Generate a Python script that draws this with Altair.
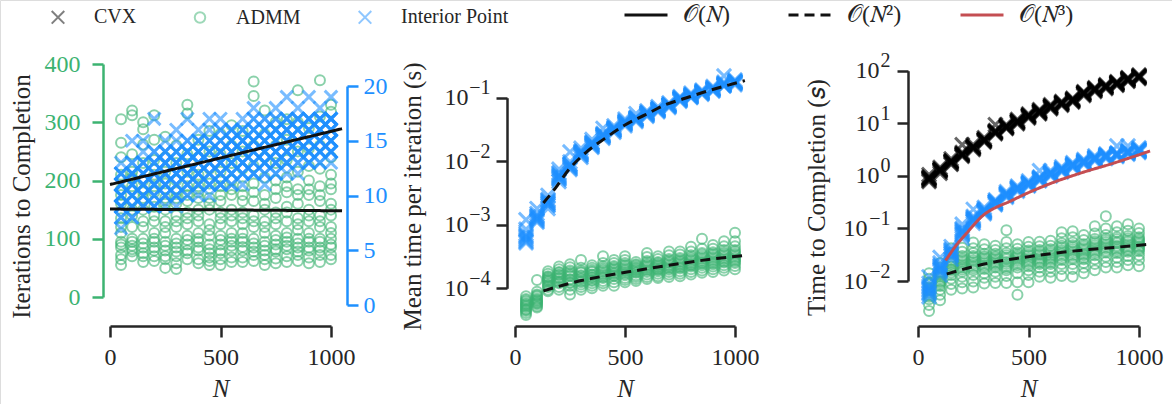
import altair as alt
import pandas as pd

FONT = "Liberation Serif"
INK = "#262626"
GREEN = "#3cb371"
BLUE = "#1e90ff"
RED = "#c44e52"

# Problem sizes used in every experiment
N_VALUES = [50, 100, 150, 200, 250, 300, 350, 400, 450, 500,
            550, 600, 650, 700, 750, 800, 850, 900, 950, 1000]

# Iterations to completion, one list of trials per N
ADMM_ITERATIONS = [
    [305, 265, 240, 210, 185, 175, 160, 135, 120, 110, 95, 90, 85, 72, 65, 55],
    [320, 312, 245, 215, 205, 190, 165, 150, 140, 120, 100, 95, 88, 82, 78, 70],
    [300, 288, 262, 230, 200, 180, 170, 150, 130, 120, 100, 92, 85, 75, 70, 60],
    [312, 270, 235, 210, 190, 180, 155, 140, 130, 110, 100, 95, 85, 80, 70, 62],
    [275, 240, 215, 195, 170, 160, 150, 130, 120, 110, 95, 88, 80, 70, 65, 50],
    [260, 230, 200, 180, 170, 160, 140, 130, 120, 100, 92, 85, 78, 70, 58, 48],
    [330, 315, 245, 215, 190, 175, 165, 145, 135, 125, 105, 98, 90, 80, 75, 65],
    [270, 240, 210, 190, 180, 170, 150, 140, 130, 110, 100, 95, 85, 80, 65, 58],
    [285, 250, 220, 195, 170, 160, 150, 125, 115, 105, 90, 82, 75, 68, 62, 55],
    [280, 245, 215, 190, 175, 165, 145, 135, 125, 105, 98, 90, 80, 75, 65, 55],
    [295, 260, 230, 200, 185, 175, 150, 140, 130, 110, 100, 95, 88, 80, 68, 60],
    [285, 250, 220, 190, 175, 165, 145, 135, 125, 110, 100, 95, 86, 80, 68, 60],
    [370, 345, 260, 225, 195, 180, 165, 140, 130, 120, 100, 92, 85, 78, 72, 62],
    [320, 280, 240, 205, 175, 160, 150, 130, 120, 110, 95, 88, 80, 72, 65, 55],
    [300, 260, 230, 200, 185, 170, 145, 135, 125, 105, 98, 90, 82, 78, 66, 58],
    [305, 270, 235, 205, 190, 180, 155, 145, 130, 110, 102, 95, 88, 82, 70, 60],
    [355, 300, 250, 215, 185, 175, 160, 135, 125, 115, 100, 92, 85, 78, 72, 62],
    [290, 255, 225, 200, 185, 175, 150, 140, 130, 110, 100, 95, 85, 80, 68, 58],
    [372, 310, 260, 220, 190, 175, 165, 140, 130, 120, 100, 95, 85, 80, 72, 60],
    [330, 318, 240, 210, 195, 185, 160, 150, 140, 120, 110, 100, 90, 85, 72, 65],
]
IP_ITERATIONS = [
    [13, 12, 12, 12, 11, 11, 11, 11, 10, 10, 10, 10, 10, 9, 9, 9, 9, 8, 8, 7],
    [15, 13, 13, 12, 12, 12, 12, 11, 11, 11, 11, 10, 10, 10, 10, 9, 9, 9, 8, 8],
    [15, 14, 13, 13, 13, 12, 12, 12, 12, 11, 11, 11, 11, 10, 10, 10, 10, 9, 9, 9],
    [17, 14, 14, 13, 13, 13, 12, 12, 12, 12, 11, 11, 11, 11, 10, 10, 10, 9, 9, 9],
    [15, 14, 14, 14, 13, 13, 13, 13, 12, 12, 12, 12, 11, 11, 11, 11, 10, 10, 10, 9],
    [16, 15, 14, 14, 14, 13, 13, 13, 13, 12, 12, 12, 12, 11, 11, 11, 10, 10, 10, 9],
    [17, 15, 15, 14, 14, 14, 14, 13, 13, 13, 13, 12, 12, 12, 12, 11, 11, 11, 10, 10],
    [16, 15, 15, 15, 14, 14, 14, 14, 13, 13, 13, 13, 12, 12, 12, 12, 11, 11, 11, 10],
    [17, 16, 15, 15, 15, 14, 14, 14, 14, 13, 13, 13, 13, 12, 12, 12, 11, 11, 11, 10],
    [17, 16, 16, 15, 15, 15, 14, 14, 14, 14, 13, 13, 13, 13, 12, 12, 12, 11, 11, 11],
    [16, 16, 16, 15, 15, 15, 15, 14, 14, 14, 14, 13, 13, 13, 13, 12, 12, 12, 11, 11],
    [17, 16, 16, 16, 15, 15, 15, 15, 14, 14, 14, 14, 13, 13, 13, 13, 12, 12, 12, 11],
    [18, 17, 17, 16, 16, 16, 15, 15, 15, 15, 14, 14, 14, 14, 13, 13, 13, 12, 12, 12],
    [17, 17, 16, 16, 16, 15, 15, 15, 15, 14, 14, 14, 14, 13, 13, 13, 13, 12, 12, 11],
    [18, 17, 17, 16, 16, 16, 16, 15, 15, 15, 15, 14, 14, 14, 14, 13, 13, 13, 12, 12],
    [19, 17, 17, 17, 16, 16, 16, 16, 15, 15, 15, 15, 14, 14, 14, 14, 13, 13, 13, 12],
    [18, 17, 17, 17, 16, 16, 16, 16, 15, 15, 15, 15, 15, 14, 14, 14, 14, 13, 13, 12],
    [19, 17, 17, 17, 17, 16, 16, 16, 16, 15, 15, 15, 15, 14, 14, 14, 14, 13, 13, 13],
    [18, 17, 17, 17, 17, 16, 16, 16, 16, 16, 15, 15, 15, 15, 14, 14, 14, 14, 13, 13],
    [19, 17, 17, 17, 17, 17, 16, 16, 16, 16, 15, 15, 15, 15, 15, 14, 14, 14, 14, 13],
]

# Mean wall time per iteration (s)
ADMM_TIME_PER_ITER = [
    [7.5e-5, 6.8e-5, 6.5e-5, 6.2e-5, 5.8e-5, 5.6e-5, 5.4e-5, 5.2e-5, 5.0e-5, 4.7e-5, 4.6e-5, 4.4e-5, 4.1e-5, 3.8e-5],
    [1.35e-4, 8.8e-5, 8.0e-5, 7.7e-5, 7.4e-5, 6.9e-5, 6.6e-5, 6.4e-5, 6.2e-5, 6.0e-5, 5.8e-5, 5.6e-5, 5.2e-5, 5.0e-5],
    [1.85e-4, 1.7e-4, 1.55e-4, 1.5e-4, 1.45e-4, 1.4e-4, 1.35e-4, 1.3e-4, 1.25e-4, 1.15e-4, 1.1e-4, 1.05e-4, 9.5e-5, 9.0e-5],
    [2.2e-4, 2.0e-4, 1.8e-4, 1.75e-4, 1.65e-4, 1.6e-4, 1.5e-4, 1.45e-4, 1.4e-4, 1.3e-4, 1.25e-4, 1.2e-4, 1.05e-4, 9.5e-5],
    [2.4e-4, 2.15e-4, 1.9e-4, 1.8e-4, 1.7e-4, 1.6e-4, 1.55e-4, 1.4e-4, 1.35e-4, 1.25e-4, 1.2e-4, 1.1e-4, 9.5e-5, 8.0e-5],
    [2.8e-4, 2.1e-4, 1.9e-4, 1.8e-4, 1.75e-4, 1.6e-4, 1.55e-4, 1.45e-4, 1.4e-4, 1.3e-4, 1.25e-4, 1.15e-4, 1.05e-4, 9.5e-5],
    [2.3e-4, 2.1e-4, 1.95e-4, 1.85e-4, 1.8e-4, 1.65e-4, 1.6e-4, 1.5e-4, 1.45e-4, 1.35e-4, 1.3e-4, 1.2e-4, 1.1e-4, 1.0e-4],
    [3.2e-4, 2.5e-4, 2.25e-4, 2.1e-4, 2.0e-4, 1.9e-4, 1.8e-4, 1.7e-4, 1.6e-4, 1.5e-4, 1.45e-4, 1.3e-4, 1.2e-4, 1.1e-4],
    [2.8e-4, 2.5e-4, 2.25e-4, 2.15e-4, 2.05e-4, 1.95e-4, 1.85e-4, 1.75e-4, 1.7e-4, 1.6e-4, 1.55e-4, 1.4e-4, 1.25e-4, 1.1e-4],
    [3.2e-4, 2.8e-4, 2.5e-4, 2.35e-4, 2.25e-4, 2.1e-4, 2.0e-4, 1.9e-4, 1.8e-4, 1.7e-4, 1.6e-4, 1.45e-4, 1.35e-4, 1.25e-4],
    [2.6e-4, 2.4e-4, 2.3e-4, 2.2e-4, 2.1e-4, 2.05e-4, 1.95e-4, 1.9e-4, 1.8e-4, 1.75e-4, 1.6e-4, 1.5e-4, 1.4e-4, 1.3e-4],
    [3.6e-4, 3.1e-4, 2.7e-4, 2.55e-4, 2.4e-4, 2.3e-4, 2.2e-4, 2.1e-4, 2.0e-4, 1.9e-4, 1.8e-4, 1.65e-4, 1.5e-4, 1.4e-4],
    [3.2e-4, 2.9e-4, 2.6e-4, 2.5e-4, 2.4e-4, 2.3e-4, 2.2e-4, 2.1e-4, 2.0e-4, 1.95e-4, 1.85e-4, 1.7e-4, 1.55e-4, 1.45e-4],
    [3.8e-4, 3.3e-4, 2.9e-4, 2.75e-4, 2.6e-4, 2.5e-4, 2.35e-4, 2.25e-4, 2.15e-4, 2.05e-4, 1.95e-4, 1.8e-4, 1.65e-4, 1.5e-4],
    [3.8e-4, 3.4e-4, 3.0e-4, 2.85e-4, 2.7e-4, 2.6e-4, 2.45e-4, 2.35e-4, 2.25e-4, 2.15e-4, 2.05e-4, 1.85e-4, 1.7e-4, 1.55e-4],
    [4.5e-4, 3.8e-4, 3.3e-4, 3.1e-4, 2.95e-4, 2.8e-4, 2.65e-4, 2.5e-4, 2.4e-4, 2.3e-4, 2.2e-4, 2.0e-4, 1.8e-4, 1.65e-4],
    [6.0e-4, 4.2e-4, 3.6e-4, 3.4e-4, 3.2e-4, 3.0e-4, 2.85e-4, 2.7e-4, 2.55e-4, 2.45e-4, 2.3e-4, 2.1e-4, 1.9e-4, 1.75e-4],
    [4.8e-4, 4.2e-4, 3.7e-4, 3.5e-4, 3.3e-4, 3.1e-4, 2.95e-4, 2.8e-4, 2.65e-4, 2.5e-4, 2.4e-4, 2.2e-4, 2.0e-4, 1.8e-4],
    [5.5e-4, 4.6e-4, 4.0e-4, 3.7e-4, 3.5e-4, 3.3e-4, 3.1e-4, 2.95e-4, 2.8e-4, 2.65e-4, 2.55e-4, 2.3e-4, 2.1e-4, 1.9e-4],
    [7.5e-4, 5.5e-4, 4.6e-4, 4.0e-4, 3.75e-4, 3.5e-4, 3.3e-4, 3.1e-4, 2.95e-4, 2.8e-4, 2.65e-4, 2.5e-4, 2.25e-4, 2.0e-4],
]
IP_TIME_PER_ITER = [
    [1.2e-3, 8.5e-4, 7.2e-4, 6.8e-4, 6.5e-4, 6.2e-4, 5.8e-4, 5.5e-4, 5.2e-4],
    [1.8e-3, 1.5e-3, 1.4e-3, 1.35e-3, 1.3e-3, 1.25e-3, 1.2e-3, 1.15e-3, 1.1e-3],
    [2.9e-3, 2.5e-3, 2.4e-3, 2.3e-3, 2.2e-3, 2.15e-3, 2.05e-3, 2.0e-3, 1.8e-3],
    [7.5e-3, 6.6e-3, 6.3e-3, 6.0e-3, 5.8e-3, 5.6e-3, 5.4e-3, 5.2e-3, 4.8e-3],
    [1.4e-2, 9.8e-3, 9.0e-3, 8.8e-3, 8.5e-3, 8.2e-3, 8.0e-3, 7.7e-3, 7.4e-3],
    [1.6e-2, 1.45e-2, 1.4e-2, 1.38e-2, 1.33e-2, 1.3e-2, 1.26e-2, 1.22e-2, 1.15e-2],
    [2.2e-2, 2.0e-2, 1.95e-2, 1.9e-2, 1.85e-2, 1.8e-2, 1.76e-2, 1.72e-2, 1.65e-2],
    [3.3e-2, 2.75e-2, 2.65e-2, 2.6e-2, 2.55e-2, 2.5e-2, 2.45e-2, 2.4e-2, 2.3e-2],
    [3.6e-2, 3.4e-2, 3.3e-2, 3.25e-2, 3.15e-2, 3.1e-2, 3.05e-2, 3.0e-2, 2.85e-2],
    [4.6e-2, 4.3e-2, 4.2e-2, 4.1e-2, 4.0e-2, 3.95e-2, 3.85e-2, 3.8e-2, 3.6e-2],
    [5.6e-2, 4.9e-2, 4.8e-2, 4.7e-2, 4.6e-2, 4.55e-2, 4.5e-2, 4.4e-2, 4.2e-2],
    [6.2e-2, 5.9e-2, 5.8e-2, 5.7e-2, 5.6e-2, 5.5e-2, 5.4e-2, 5.3e-2, 5.1e-2],
    [7.2e-2, 6.8e-2, 6.7e-2, 6.6e-2, 6.5e-2, 6.4e-2, 6.3e-2, 6.2e-2, 6.0e-2],
    [8.3e-2, 7.9e-2, 7.8e-2, 7.7e-2, 7.6e-2, 7.5e-2, 7.4e-2, 7.3e-2, 7.0e-2],
    [0.104, 0.100, 0.098, 0.097, 0.095, 0.094, 0.092, 0.091, 0.088],
    [0.118, 0.113, 0.111, 0.109, 0.107, 0.106, 0.104, 0.103, 0.100],
    [0.132, 0.127, 0.125, 0.123, 0.121, 0.120, 0.118, 0.117, 0.113],
    [0.150, 0.143, 0.141, 0.139, 0.137, 0.135, 0.133, 0.131, 0.127],
    [0.220, 0.175, 0.168, 0.165, 0.162, 0.160, 0.157, 0.155, 0.152],
    [0.190, 0.182, 0.180, 0.177, 0.175, 0.172, 0.170, 0.167, 0.160],
]

# Total time to completion (s)
CVX_TOTAL_TIME = [
    [1.05, 0.95, 0.92, 0.90, 0.88, 0.86, 0.82, 0.78],
    [1.45, 1.35, 1.32, 1.30, 1.28, 1.25, 1.20, 1.12],
    [2.10, 1.95, 1.90, 1.88, 1.84, 1.80, 1.72, 1.65],
    [3.90, 2.80, 2.65, 2.60, 2.55, 2.50, 2.45, 2.35],
    [3.90, 3.65, 3.55, 3.50, 3.45, 3.40, 3.30, 3.15],
    [5.30, 5.00, 4.90, 4.85, 4.75, 4.70, 4.55, 4.40],
    [9.40, 7.30, 7.00, 6.90, 6.80, 6.70, 6.60, 6.30],
    [9.40, 8.90, 8.70, 8.60, 8.50, 8.40, 8.20, 7.90],
    [11.8, 11.2, 10.9, 10.8, 10.6, 10.5, 10.2, 9.8],
    [15.0, 14.3, 14.0, 13.9, 13.7, 13.5, 13.1, 12.6],
    [18.2, 17.3, 16.9, 16.7, 16.4, 16.2, 15.7, 15.1],
    [22.5, 21.5, 21.0, 20.8, 20.5, 20.2, 19.6, 18.9],
    [26.0, 24.9, 24.5, 24.2, 23.8, 23.5, 22.8, 22.0],
    [30.0, 28.7, 28.2, 27.8, 27.4, 27.0, 26.2, 25.3],
    [40.0, 38.3, 37.6, 37.2, 36.7, 36.2, 35.1, 33.8],
    [47.5, 45.5, 44.8, 44.2, 43.6, 43.0, 41.8, 40.2],
    [54.0, 51.8, 51.0, 50.3, 49.6, 49.0, 47.6, 45.8],
    [62.0, 59.5, 58.6, 57.8, 57.0, 56.3, 54.7, 52.6],
    [74.0, 71.0, 69.8, 68.9, 68.0, 67.1, 65.2, 62.7],
    [83.0, 79.6, 78.3, 77.3, 76.2, 75.3, 73.2, 70.4],
]
IP_TOTAL_TIME = [
    [0.012, 0.009, 0.008, 0.0075, 0.007, 0.0065, 0.006, 0.0057, 0.005],
    [0.028, 0.022, 0.020, 0.019, 0.018, 0.017, 0.016, 0.015, 0.013],
    [0.045, 0.040, 0.038, 0.036, 0.034, 0.033, 0.031, 0.030, 0.026],
    [0.120, 0.100, 0.095, 0.090, 0.086, 0.082, 0.078, 0.075, 0.065],
    [0.230, 0.170, 0.160, 0.155, 0.150, 0.145, 0.140, 0.135, 0.125],
    [0.250, 0.235, 0.225, 0.220, 0.215, 0.210, 0.205, 0.200, 0.190],
    [0.350, 0.330, 0.325, 0.320, 0.310, 0.305, 0.300, 0.295, 0.280],
    [0.500, 0.470, 0.460, 0.450, 0.440, 0.430, 0.420, 0.410, 0.390],
    [0.640, 0.600, 0.590, 0.580, 0.570, 0.560, 0.550, 0.540, 0.510],
    [0.800, 0.750, 0.730, 0.720, 0.710, 0.700, 0.680, 0.670, 0.640],
    [1.250, 0.950, 0.920, 0.900, 0.885, 0.870, 0.855, 0.840, 0.800],
    [1.250, 1.170, 1.140, 1.120, 1.100, 1.080, 1.060, 1.040, 0.990],
    [1.480, 1.390, 1.360, 1.330, 1.310, 1.290, 1.260, 1.240, 1.180],
    [1.780, 1.680, 1.640, 1.610, 1.580, 1.560, 1.530, 1.500, 1.430],
    [2.050, 1.940, 1.900, 1.860, 1.830, 1.800, 1.770, 1.740, 1.660],
    [2.400, 2.260, 2.200, 2.170, 2.130, 2.100, 2.060, 2.030, 1.930],
    [2.600, 2.500, 2.450, 2.400, 2.360, 2.320, 2.280, 2.240, 2.140],
    [3.700, 2.720, 2.660, 2.600, 2.560, 2.520, 2.480, 2.440, 2.320],
    [3.700, 3.010, 2.950, 2.880, 2.840, 2.790, 2.750, 2.700, 2.570],
    [3.400, 3.220, 3.160, 3.100, 3.050, 3.000, 2.950, 2.900, 2.770],
]
ADMM_TOTAL_TIME = [
    [0.014, 0.011, 0.0095, 0.009, 0.0085, 0.0075, 0.007, 0.0065, 0.006, 0.0055, 0.005, 0.0045, 0.0035, 0.0027],
    [0.022, 0.018, 0.015, 0.014, 0.013, 0.012, 0.011, 0.010, 0.0095, 0.0088, 0.008, 0.0068, 0.0055, 0.0043],
    [0.042, 0.034, 0.028, 0.025, 0.023, 0.021, 0.019, 0.017, 0.016, 0.0145, 0.013, 0.011, 0.0088, 0.0068],
    [0.043, 0.036, 0.030, 0.027, 0.025, 0.023, 0.021, 0.0195, 0.018, 0.0165, 0.015, 0.012, 0.0095, 0.0072],
    [0.054, 0.042, 0.034, 0.030, 0.028, 0.025, 0.023, 0.021, 0.019, 0.0175, 0.016, 0.013, 0.0098, 0.0075],
    [0.050, 0.040, 0.033, 0.030, 0.028, 0.026, 0.024, 0.022, 0.020, 0.0185, 0.017, 0.014, 0.0115, 0.009],
    [0.047, 0.039, 0.033, 0.030, 0.028, 0.026, 0.024, 0.0225, 0.021, 0.0195, 0.018, 0.015, 0.012, 0.0092],
    [0.092, 0.055, 0.042, 0.034, 0.031, 0.028, 0.026, 0.023, 0.021, 0.019, 0.0175, 0.016, 0.0125, 0.0092],
    [0.050, 0.041, 0.035, 0.032, 0.030, 0.028, 0.026, 0.024, 0.022, 0.020, 0.018, 0.014, 0.0095, 0.0055],
    [0.055, 0.045, 0.038, 0.035, 0.032, 0.030, 0.027, 0.025, 0.023, 0.021, 0.019, 0.016, 0.013, 0.0095],
    [0.056, 0.046, 0.039, 0.036, 0.033, 0.031, 0.028, 0.026, 0.024, 0.0225, 0.021, 0.018, 0.015, 0.012],
    [0.058, 0.047, 0.040, 0.037, 0.034, 0.031, 0.029, 0.027, 0.025, 0.023, 0.021, 0.018, 0.015, 0.0115],
    [0.085, 0.065, 0.052, 0.047, 0.043, 0.039, 0.036, 0.033, 0.030, 0.027, 0.025, 0.021, 0.017, 0.0125],
    [0.088, 0.068, 0.054, 0.048, 0.044, 0.040, 0.037, 0.034, 0.031, 0.028, 0.026, 0.021, 0.017, 0.012],
    [0.075, 0.060, 0.050, 0.046, 0.042, 0.039, 0.036, 0.033, 0.031, 0.028, 0.026, 0.022, 0.018, 0.014],
    [0.110, 0.080, 0.063, 0.057, 0.052, 0.048, 0.044, 0.040, 0.037, 0.034, 0.031, 0.026, 0.021, 0.016],
    [0.170, 0.100, 0.075, 0.065, 0.060, 0.055, 0.050, 0.046, 0.042, 0.038, 0.035, 0.029, 0.023, 0.018],
    [0.110, 0.085, 0.068, 0.062, 0.056, 0.052, 0.047, 0.044, 0.040, 0.037, 0.034, 0.028, 0.023, 0.018],
    [0.120, 0.090, 0.072, 0.065, 0.059, 0.055, 0.050, 0.046, 0.042, 0.039, 0.036, 0.030, 0.025, 0.020],
    [0.100, 0.082, 0.068, 0.063, 0.058, 0.054, 0.050, 0.046, 0.043, 0.040, 0.037, 0.031, 0.025, 0.019],
]

# Fitted trends, sampled along each curve
FIT_ITER_ADMM_N = [0, 1050]
FIT_ITER_ADMM = [151, 148]
FIT_ITER_IP_N = [0, 1050]
FIT_ITER_IP = [11.0, 16.1]
FIT_PERITER_IP_N = [129, 182, 242, 318, 409, 500, 591, 682, 773, 864, 955, 1045]
FIT_PERITER_IP = [2.2e-3, 3.7e-3, 7.2e-3, 1.33e-2, 2.29e-2, 3.72e-2, 5.35e-2,
                  7.7e-2, 9.8e-2, 0.124, 0.153, 0.186]
FIT_PERITER_ADMM_N = [129, 250, 400, 550, 700, 850, 1045]
FIT_PERITER_ADMM = [9.1e-5, 1.2e-4, 1.55e-4, 1.9e-4, 2.3e-4, 2.75e-4, 3.3e-4]
FIT_TOTAL_IP_N = [125, 175, 220, 280, 431, 582, 733, 884, 1050]
FIT_TOTAL_IP = [0.0245, 0.049, 0.081, 0.156, 0.35, 0.67, 1.12, 1.74, 2.97]
FIT_TOTAL_ADMM_N = [130, 300, 500, 700, 900, 1050]
FIT_TOTAL_ADMM = [0.0136, 0.021, 0.029, 0.037, 0.044, 0.050]

METHODS = ["CVX", "ADMM", "Interior Point"]
FITS = ["𝒪(𝑁)", "𝒪(𝑁²)", "𝒪(𝑁³)"]

X_MARK = "M-1.2,-1.2L1.2,1.2M-1.2,1.2L1.2,-1.2"
METHOD_COLORS = ["rgba(0,0,0,0.6)", "rgba(60,179,113,0.6)", "rgba(30,144,255,0.6)"]
METHOD_SHAPES = [X_MARK, "circle", X_MARK]
FIT_COLORS = ["#111111", "#111111", RED]
FIT_DASHES = [[1, 0], [10, 6], [1, 0]]


def trials(method, per_n):
    rows = [{"N": n, "value": v, "method": method}
            for n, vals in zip(N_VALUES, per_n) for v in vals]
    return pd.DataFrame(rows)


def curve(fit, ns, vals):
    return pd.DataFrame({"N": ns, "value": vals, "fit": fit})


# pixel ranges of each panel's scales
X_RANGE = {1: [110, 331], 2: [515, 735], 3: [918, 1139]}
X_MID = {1: 220.5, 2: 625, 3: 1028.5}

Y_SCALES = {
    "iter": alt.Scale(domain=[0, 400], range=[297, 64], nice=False, zero=False),
    "ipiter": alt.Scale(domain=[0, 20], range=[305, 86], nice=False, zero=False),
    "periter": alt.Scale(type="log", domain=[1e-4, 1e-1], range=[288.3, 97.7], nice=False),
    "total": alt.Scale(type="log", domain=[1e-2, 1e2], range=[281, 70.7], nice=False),
}

AXIS_STYLE = dict(
    labelFont=FONT, labelFontSize=24, titleFont=FONT, titleFontSize=25,
    titleFontWeight="normal", domainWidth=2.5, tickWidth=2.5, tickSize=11,
    grid=False, labelOverlap=False, labelFlush=False,
    domainColor=INK, tickColor=INK, labelColor=INK, titleColor=INK,
)
# second axis on a log scale that only carries the exponents of the 10^k labels
EXPONENT_STYLE = dict(
    labelFont=FONT, labelFontSize=20, labelColor=INK, labelBaseline="bottom",
    tickSize=11, tickOpacity=0, domainOpacity=0, grid=False, labelOverlap=False,
    labelFlush=False, title=None,
)


def x_axis(panel):
    return alt.Axis(orient="bottom", offset=-78, values=[0, 500, 1000], format="d",
                    title="N", titleFontStyle="italic", titleX=X_MID[panel], titleY=62,
                    titleBaseline="middle", titleAlign="center", labelPadding=8,
                    **AXIS_STYLE)


def xenc(panel, axis=None):
    return alt.X("N:Q", scale=alt.Scale(domain=[0, 1000], range=X_RANGE[panel],
                                        nice=False, zero=False), axis=axis)


def yenc(key, axis=None):
    return alt.Y("value:Q", scale=Y_SCALES[key], axis=axis)


marker_legend = alt.Legend(
    orient="none", legendX=48, legendY=7, direction="horizontal", columns=3,
    title=None, labelFont=FONT, labelFontSize=20, labelColor=INK, symbolSize=110,
    symbolStrokeWidth=2, labelOffset=26, columnPadding=53, symbolOpacity=0.83,
)
fit_legend = alt.Legend(
    orient="none", legendX=623, legendY=-8, direction="horizontal", title=None,
    labelFont=FONT, labelFontSize=24, labelColor=INK, symbolType="stroke",
    symbolSize=1849, symbolStrokeWidth=3, labelOffset=14, columnPadding=52,
)
method_color = alt.Color("method:N", scale=alt.Scale(domain=METHODS, range=METHOD_COLORS),
                         legend=marker_legend)
method_shape = alt.Shape("method:N", scale=alt.Scale(domain=METHODS, range=METHOD_SHAPES),
                         legend=marker_legend)
fit_stroke = alt.Stroke("fit:N", scale=alt.Scale(domain=FITS, range=FIT_COLORS), legend=fit_legend)
fit_dash = alt.StrokeDash("fit:N", scale=alt.Scale(domain=FITS, range=FIT_DASHES), legend=fit_legend)


def points(df, panel, ykey, xaxis=None, yaxis=None, size=110, width=3):
    return alt.Chart(df).mark_point(filled=False, size=size, strokeWidth=width, opacity=1).encode(
        x=xenc(panel, xaxis), y=yenc(ykey, yaxis), color=method_color, shape=method_shape)


def line(df, panel, ykey):
    return alt.Chart(df).mark_line(strokeWidth=3, interpolate="monotone", clip=False).encode(
        x=xenc(panel), y=yenc(ykey), stroke=fit_stroke, strokeDash=fit_dash)


exp_2 = ("datum.value < 0.0005 ? '−4' : datum.value < 0.005 ? '−3' : "
         "datum.value < 0.05 ? '−2' : '−1'")
exp_3 = ("datum.value < 0.05 ? '−2' : datum.value < 0.5 ? '−1' : "
         "datum.value < 5 ? '0' : datum.value < 50 ? '1' : '2'")

green_axis = alt.Axis(
    orient="left", offset=-103, values=[0, 100, 200, 300, 400], labelPadding=12,
    title="Iterations to Completion", titleX=-82, titleY=196, titleAngle=270,
    titleBaseline="middle", titleAlign="center",
    **{**AXIS_STYLE, "domainColor": GREEN, "tickColor": GREEN, "labelColor": GREEN},
)
blue_axis = alt.Axis(
    orient="right", offset=-825, values=[0, 5, 10, 15, 20], labelPadding=5, title=None,
    **{**AXIS_STYLE, "domainColor": BLUE, "tickColor": BLUE, "labelColor": BLUE},
)
periter_axis = alt.Axis(
    orient="left", offset=-507, values=[1e-4, 1e-3, 1e-2, 1e-1], labelExpr="'10'",
    labelPadding=28, title="Mean time per iteration (s)", titleX=-95, titleY=196,
    titleAngle=270, titleBaseline="middle", titleAlign="center", **AXIS_STYLE,
)
periter_exp_axis = alt.Axis(
    orient="left", offset=-507, values=[1e-4, 1e-3, 1e-2, 1e-1], labelExpr=exp_2,
    labelPadding=6, **EXPONENT_STYLE,
)
# mantissas of the non-negative powers (narrow exponents)
total_axis = alt.Axis(
    orient="left", offset=-908, values=[1, 10, 100], labelExpr="'10'",
    labelPadding=18, title="Time to Completion (𝑠)", titleX=-92, titleY=197,
    titleAngle=270, titleBaseline="middle", titleAlign="center", **AXIS_STYLE,
)
# mantissas of the negative powers (wider exponents), with their ticks
total_neg_axis = alt.Axis(
    orient="left", offset=-908, values=[1e-2, 1e-1], labelExpr="'10'",
    labelPadding=30, title=None, **{**AXIS_STYLE, "domainOpacity": 0},
)
total_exp_axis = alt.Axis(
    orient="left", offset=-908, values=[1e-2, 1e-1, 1, 10, 100], labelExpr=exp_3,
    labelPadding=7, **EXPONENT_STYLE,
)

layers = [
    # panel 1: iterations
    points(trials("ADMM", ADMM_ITERATIONS), 1, "iter", x_axis(1), green_axis, size=100, width=2),
    points(trials("Interior Point", IP_ITERATIONS), 1, "ipiter", None, blue_axis),
    line(curve(FITS[0], FIT_ITER_ADMM_N, FIT_ITER_ADMM), 1, "iter"),
    line(curve(FITS[0], FIT_ITER_IP_N, FIT_ITER_IP), 1, "ipiter"),
    # panel 2: time per iteration
    points(trials("ADMM", ADMM_TIME_PER_ITER), 2, "periter", x_axis(2), periter_axis,
           size=100, width=2),
    points(trials("Interior Point", IP_TIME_PER_ITER), 2, "periter", None, periter_exp_axis,
           size=140),
    line(curve(FITS[1], FIT_PERITER_ADMM_N, FIT_PERITER_ADMM), 2, "periter"),
    line(curve(FITS[1], FIT_PERITER_IP_N, FIT_PERITER_IP), 2, "periter"),
    # panel 3: total time
    points(trials("CVX", CVX_TOTAL_TIME), 3, "total", x_axis(3), total_axis, size=140),
    points(trials("ADMM", ADMM_TOTAL_TIME), 3, "total", None, total_exp_axis, size=100, width=2),
    points(trials("Interior Point", IP_TOTAL_TIME), 3, "total", None, total_neg_axis, size=140),
    line(curve(FITS[1], FIT_TOTAL_ADMM_N, FIT_TOTAL_ADMM), 3, "total"),
    line(curve(FITS[2], FIT_TOTAL_IP_N, FIT_TOTAL_IP), 3, "total"),
]

chart = (
    alt.layer(*layers)
    .resolve_scale(x="independent", y="independent")
    .properties(width=1172, height=404, padding=0,
                autosize=alt.AutoSizeParams(type="none"))
    .configure_view(strokeWidth=0)
    .configure(background="white")
)

chart.save("out.html", embed_options={"renderer": "svg", "actions": False})
